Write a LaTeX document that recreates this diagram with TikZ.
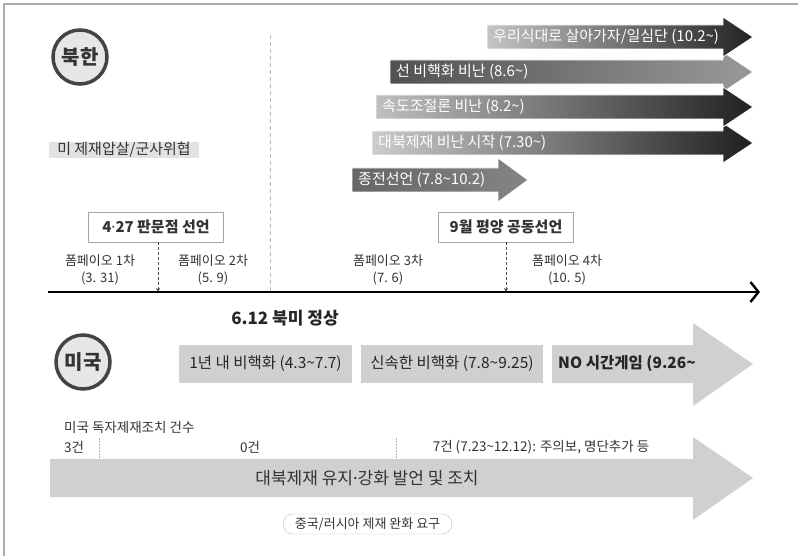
\documentclass[tikz,border=0pt]{standalone}
\usepackage{fontspec}
\setmainfont{Noto Sans CJK KR}
\newfontfamily\dotfont{Noto Sans}
\usetikzlibrary{arrows.meta,calc,positioning}

\definecolor{frm}{HTML}{ABABAB}
\definecolor{txt}{HTML}{333333}
\definecolor{circ}{HTML}{444444}
\definecolor{circfill}{HTML}{E6E6E6}
\definecolor{boxfill}{HTML}{E2E2E2}
\definecolor{usfill}{HTML}{D0D0D0}

\begin{document}
\begin{tikzpicture}[x=1pt,y=-1pt,
	cnode/.style={circle,draw=circ,line width=3.5pt,fill=circfill,minimum size=54pt,inner sep=0pt,font=\bfseries\fontsize{20}{22}\selectfont,text=txt},
	arrtxt/.style={anchor=west,inner sep=0pt,text=white,font=\fontsize{15}{17}\selectfont},
	declbox/.style={draw=gray!70,fill=white,line width=0.8pt,minimum width=135pt,minimum height=30pt,inner sep=0pt,font=\bfseries\fontsize{15}{17}\selectfont,text=txt},
	lbl/.style={align=center,inner sep=0pt,text=txt,font=\fontsize{13}{17}\selectfont},
	usbox/.style={fill=usfill,minimum height=38pt,inner sep=0pt,text=black!85,font=\fontsize{15.5}{17}\selectfont},
	info/.style={inner sep=0pt,text=txt,font=\fontsize{13.5}{15}\selectfont},
	tick/.style={gray!60,dash pattern=on 1.5pt off 1.5pt,line width=0.6pt}]

	\useasboundingbox (0,0) rectangle (798,556);

	% frame
	\draw[frm,line width=1.5pt] (4,556) -- (4,4) -- (798,4);

	\coordinate (ax0) at (48,292);
	\coordinate (ax1) at (760,292);
	\coordinate (mid) at (270,35);

	\node[cnode] (nk) at (80,57) {북한};
	\node[cnode] (us) at (83,362) {미국};

	\draw[gray!55,dash pattern=on 4pt off 3pt,line width=0.7pt] (mid) -- (mid |- ax0);

	\node[fill=boxfill,minimum width=150pt,minimum height=15pt,inner sep=0pt,text=txt,font=\fontsize{15}{17}\selectfont] (thr) at (124,150) {미 제재압살/군사위협};

	% north korea arrows
	\foreach \xl/\yc/\cl/\cr/\nm/\txt in {
		390/72/{black!68}/{black!40}/a2/{선 비핵화 비난 (8.6\textasciitilde)},
		372/143/{black!20}/{black!88}/a4/{대북제재 비난 시작 (7.30\textasciitilde)},
		376/107/{black!25}/{black!87}/a3/{속도조절론 비난 (8.2\textasciitilde)},
		487/37/{black!23}/{black!87}/a1/{우리식대로 살아가자/일심단 (10.2\textasciitilde)}}{
		\shade[left color=\cl,right color=\cr,draw=white,line width=0.8pt]
			(\xl,\yc-12) -- (723,\yc-12) -- (723,\yc-20) -- (753,\yc)
			-- (723,\yc+20) -- (723,\yc+12) -- (\xl,\yc+12) -- cycle;
		\node[arrtxt] (\nm) at (\xl+6,\yc) {\txt};
	}
	\shade[left color=black!60,right color=black!48,draw=white,line width=0.8pt]
		(352,168) -- (498,168) -- (498,158) -- (528,180) -- (498,202) -- (498,192) -- (352,192) -- cycle;
	\node[arrtxt] (a5) at (358,180) {종전선언 (7.8\textasciitilde10.2)};

	% time axis
	\draw[line width=2.4pt,-{Straight Barb[length=8pt,width=20pt]}] (ax0) -- (ax1);

	\node[declbox] (pmj) at (156,227) {4{\dotfont ·}27 판문점 선언};
	\node[declbox] (pyd) at (506,227) {9월 평양 공동선언};
	\draw[black!70,dash pattern=on 3pt off 2pt,line width=0.7pt,-{Stealth[length=4pt,width=4pt]}] ([xshift=2pt]pmj.south) -- ([xshift=2pt]pmj.south |- ax0);
	\draw[black!70,dash pattern=on 3pt off 2pt,line width=0.7pt,-{Stealth[length=4pt,width=4pt]}] (pyd.south) -- (pyd.south |- ax0);

	\node[lbl] (pp1) at (100,270) {폼페이오 1차\\(3. 31)};
	\node[lbl] (pp2) at (213,270) {폼페이오 2차\\(5. 9)};
	\node[lbl] (pp3) at (388,270) {폼페이오 3차\\(7. 6)};
	\node[lbl] (pp4) at (567,270) {폼페이오 4차\\(10. 5)};

	\node[inner sep=0pt,text=black!85,font=\bfseries\fontsize{17}{19}\selectfont] (smt) at (285,318) {6.12 북미 정상};

	% us side
	\node[usbox,minimum width=173pt] (u1) at (265.5,364) {1년 내 비핵화 (4.3\textasciitilde7.7)};
	\node[usbox,minimum width=182pt] (u2) at (452,364) {신속한 비핵화 (7.8\textasciitilde9.25)};
	\fill[usfill] (552,345) -- (693,345) -- (693,323) -- (753,364) -- (693,406) -- (693,383) -- (552,383) -- cycle;
	\node[anchor=west,inner sep=0pt,text=black!85,font=\bfseries\fontsize{15.5}{17}\selectfont] (u3) at (558,364) {NO 시간게임 (9.26\textasciitilde};

	\node[info,anchor=west] (cnt) at (64,427) {미국 독자제재조치 건수};
	\node[info,anchor=west] (c3) at (64,447) {3건};
	\node[info] (c0) at (250,447) {0건};
	\node[info] (c7) at (541,447) {7건 (7.23\textasciitilde12.12): 주의보, 명단추가 등};
	\coordinate (t1) at (99,438);
	\coordinate (t2) at (396,438);
	\draw[tick] (t1) -- ++(0,20);
	\draw[tick] (t2) -- ++(0,20);

	\fill[usfill] (50,459) -- (693,459) -- (693,437) -- (753,478) -- (693,520) -- (693,497) -- (50,497) -- cycle;
	\node[inner sep=0pt,text=txt,font=\fontsize{17}{19}\selectfont] (sanc) at (367,478) {대북제재 유지{\dotfont ·}강화 발언 및 조치};

	\node[draw=gray!50,fill=white,rounded corners=10pt,minimum width=169pt,minimum height=20pt,inner sep=0pt,text=txt,font=\fontsize{13}{15}\selectfont] (cr) at (367.5,524) {중국/러시아 제재 완화 요구};

\end{tikzpicture}
\end{document}
